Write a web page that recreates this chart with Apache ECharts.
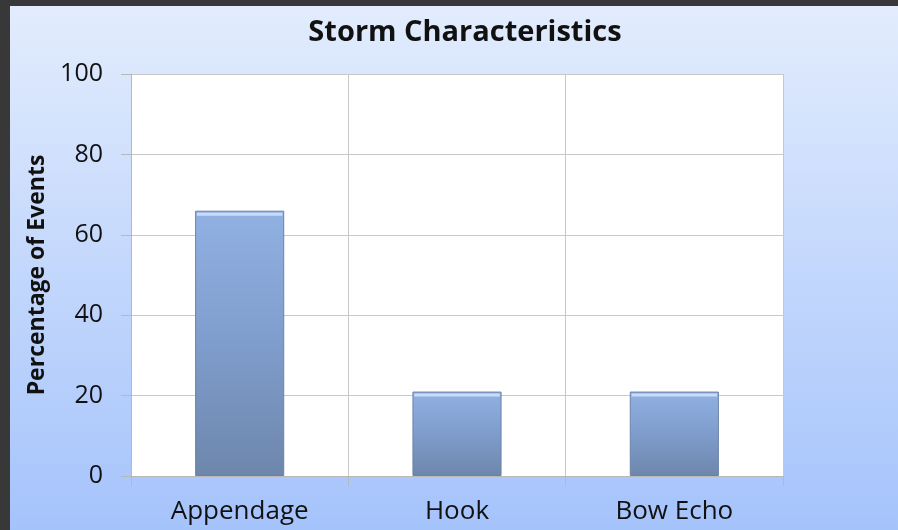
<!DOCTYPE html>
<html>
<head>
<meta charset="utf-8">
<script src="https://cdn.jsdelivr.net/npm/echarts@6/dist/echarts.min.js"></script>
<style>
  html, body { margin: 0; padding: 0; background: #383838; }
  #chart { width: 898px; height: 530px; }
</style>
</head>
<body>
<div id="chart"></div>
<script>
// Storm types and share of events (%)
const categories = ['Appendage', 'Hook', 'Bow Echo'];
const percentages = [66, 21, 21];
const yTicks = { min: 0, max: 100, interval: 20 };

const FONT = '"Open Sans", "Noto Sans", sans-serif';

const chart = echarts.init(document.getElementById('chart'), null, { renderer: 'canvas' });

const barFill = new echarts.graphic.LinearGradient(0, 0, 0, 1, [
  { offset: 0, color: '#91b1e3' },
  { offset: 0.5, color: '#7f9dcc' },
  { offset: 1, color: '#6d86ab' }
]);

const option = {
  animation: false,
  backgroundColor: '#383838',
  graphic: [
    {
      type: 'rect',
      z: -10,
      silent: true,
      shape: { x: 10, y: 6, width: 888, height: 524 },
      style: {
        fill: new echarts.graphic.LinearGradient(0, 0, 0, 1, [
          { offset: 0, color: '#e2ecfd' },
          { offset: 1, color: '#a5c3fb' }
        ])
      }
    }
  ],
  title: {
    text: 'Storm Characteristics',
    left: 460,
    top: 13,
    textAlign: 'center',
    textStyle: { fontFamily: FONT, fontSize: 29, fontWeight: 'bold', color: '#111' }
  },
  grid: { left: 131, right: 115, top: 74, bottom: 54, containLabel: false,
          show: true, backgroundColor: '#ffffff', borderWidth: 0 },
  xAxis: {
    type: 'category',
    data: categories,
    axisLine: { show: true, lineStyle: { color: '#b8b8b8', width: 1 } },
    axisTick: { show: true, length: 10, lineStyle: { color: '#b8b8b8' } },
    axisLabel: { fontFamily: FONT, fontSize: 26, color: '#111', margin: 23 },
    splitLine: { show: true, lineStyle: { color: '#c8c8c8', width: 1 } }
  },
  yAxis: {
    type: 'value',
    min: yTicks.min,
    max: yTicks.max,
    interval: yTicks.interval,
    name: 'Percentage of Events',
    nameLocation: 'middle',
    nameGap: 81,
    nameTextStyle: { fontFamily: FONT, fontSize: 23, fontWeight: 'bold', color: '#111' },
    axisLine: { show: true, lineStyle: { color: '#b8b8b8', width: 1 } },
    axisTick: { show: true, length: 10, lineStyle: { color: '#b8b8b8' } },
    axisLabel: { fontFamily: FONT, fontSize: 25, color: '#111', margin: 28 },
    splitLine: { show: true, lineStyle: { color: '#c8c8c8', width: 1 } }
  },
  series: [
    {
      type: 'bar',
      data: percentages,
      barWidth: '41%',
      itemStyle: {
        color: barFill,
        borderColor: '#6a82a8',
        borderWidth: 1
      }
    },
    {
      // pale highlight strip along the top edge of each bar
      type: 'pictorialBar',
      data: percentages,
      barWidth: '41%',
      barGap: '-100%',
      symbol: 'rect',
      symbolPosition: 'end',
      symbolSize: ['96%', 3],
      symbolOffset: [0, 2],
      silent: true,
      itemStyle: { color: '#c9dcf7' },
      z: 3
    }
  ]
};

chart.setOption(option);
</script>
</body>
</html>
